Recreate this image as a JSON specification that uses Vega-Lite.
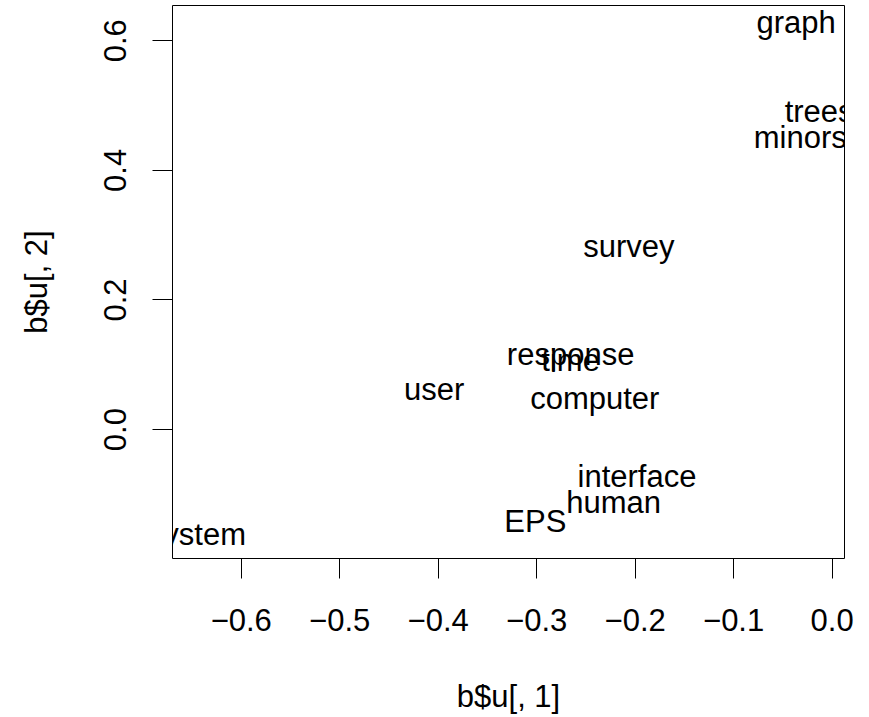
{
  "$schema": "https://vega.github.io/schema/vega-lite/v6.json",
  "autosize": {"type": "none"},
  "padding": {"left": 172, "top": 5, "right": 25, "bottom": 159},
  "width": 672,
  "height": 553,
  "background": "white",
  "config": {
    "view": {"stroke": "black", "strokeWidth": 1},
    "font": "Liberation Sans",
    "axis": {
      "domain": false,
      "grid": false,
      "ticks": true,
      "tickColor": "black",
      "tickWidth": 1,
      "tickSize": 20,
      "labelFont": "Liberation Sans",
      "labelFontSize": 31,
      "labelColor": "black",
      "labelFlush": false,
      "labelOverlap": false,
      "titleFont": "Liberation Sans",
      "titleFontSize": 31,
      "titleFontWeight": "normal",
      "titleColor": "black"
    }
  },
  "data": {
    "values": [
      {"term": "human", "u1": -0.2214, "u2": -0.1132},
      {"term": "interface", "u1": -0.1976, "u2": -0.0721},
      {"term": "computer", "u1": -0.2405, "u2": 0.0432},
      {"term": "user", "u1": -0.4036, "u2": 0.0571},
      {"term": "system", "u1": -0.6445, "u2": -0.1673},
      {"term": "response", "u1": -0.2650, "u2": 0.1072},
      {"term": "time", "u1": -0.2650, "u2": 0.1072},
      {"term": "EPS", "u1": -0.3008, "u2": -0.1413},
      {"term": "survey", "u1": -0.2059, "u2": 0.2736},
      {"term": "trees", "u1": -0.0127, "u2": 0.4902},
      {"term": "graph", "u1": -0.0361, "u2": 0.6228},
      {"term": "minors", "u1": -0.0318, "u2": 0.4505}
    ]
  },
  "encoding": {
    "x": {
      "field": "u1",
      "type": "quantitative",
      "scale": {"domain": [-0.6698, 0.0126], "nice": false, "zero": false},
      "axis": {
        "title": "b$u[, 1]",
        "values": [-0.6, -0.5, -0.4, -0.3, -0.2, -0.1, 0.0],
        "format": ".1f",
        "labelBaseline": "alphabetic",
        "labelAlign": "center",
        "labelPadding": 52,
        "titleBaseline": "alphabetic",
        "titleAnchor": "middle",
        "titleY": 148
      }
    },
    "y": {
      "field": "u2",
      "type": "quantitative",
      "scale": {"domain": [-0.1989, 0.6544], "nice": false, "zero": false},
      "axis": {
        "title": "b$u[, 2]",
        "values": [0.0, 0.2, 0.4, 0.6],
        "format": ".1f",
        "labelAngle": -90,
        "labelAlign": "center",
        "labelBaseline": "alphabetic",
        "labelPadding": 27,
        "titleAngle": -90,
        "titleAlign": "center",
        "titleBaseline": "alphabetic",
        "titleAnchor": "middle",
        "titleX": -126,
        "titleY": 276.5
      }
    },
    "text": {"field": "term", "type": "nominal"}
  },
  "layer": [
    {
      "transform": [{"filter": {"field": "term", "oneOf": ["human", "interface", "time", "EPS", "minors", "trees"]}}],
      "mark": {"type": "text", "fontSize": 31, "font": "Liberation Sans", "color": "black", "align": "center", "baseline": "alphabetic", "dy": 11, "clip": true}
    },
    {
      "transform": [{"filter": {"field": "term", "oneOf": ["computer", "system", "graph", "user"]}}],
      "mark": {"type": "text", "fontSize": 31, "font": "Liberation Sans", "color": "black", "align": "center", "baseline": "alphabetic", "dy": 7.5, "clip": true}
    },
    {
      "transform": [{"filter": {"field": "term", "oneOf": ["response", "survey"]}}],
      "mark": {"type": "text", "fontSize": 31, "font": "Liberation Sans", "color": "black", "align": "center", "baseline": "alphabetic", "dy": 5.1, "clip": true}
    }
  ]
}
